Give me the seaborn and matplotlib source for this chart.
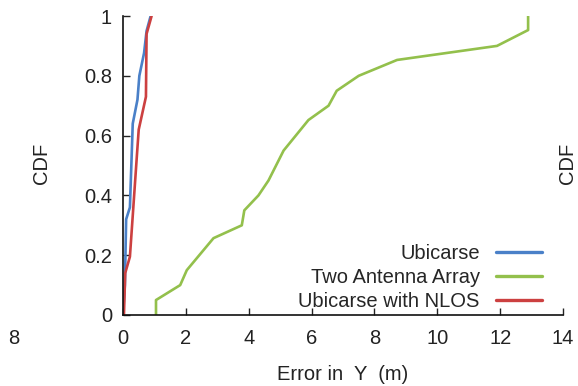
import matplotlib
matplotlib.use("Agg")
import matplotlib.pyplot as plt
import seaborn as sns
import pandas as pd

# CDF samples: localization error in Y (m) for each method
ubicarse_err = [0.0, 0.06, 0.10, 0.22, 0.31, 0.46, 0.52, 0.67, 0.75, 0.88]
ubicarse_cdf = [0.0, 0.10, 0.32, 0.36, 0.64, 0.72, 0.80, 0.876, 0.95, 1.0]

two_antenna_err = [1.05, 1.05, 1.82, 2.03, 2.88, 3.78, 3.86, 4.31, 4.63, 5.11,
                   5.90, 6.54, 6.80, 7.50, 8.72, 11.90, 12.89, 12.89]
two_antenna_cdf = [0.0, 0.05, 0.10, 0.15, 0.257, 0.30, 0.35, 0.40, 0.45, 0.55,
                   0.652, 0.70, 0.75, 0.80, 0.853, 0.90, 0.953, 1.0]

nlos_err = [0.03, 0.07, 0.22, 0.44, 0.50, 0.73, 0.75, 0.91]
nlos_cdf = [0.0, 0.14, 0.195, 0.53, 0.62, 0.73, 0.94, 1.0]

series_names = ["Ubicarse", "Two Antenna Array", "Ubicarse with NLOS"]
colors = ["#4a80c8", "#93c04c", "#cc4040"]

x_ticks = [0, 2, 4, 6, 8, 10, 12, 14]
y_ticks = [0, 0.2, 0.4, 0.6, 0.8, 1]
y_tick_labels = ["0", "0.2", "0.4", "0.6", "0.8", "1"]

frames = []
for name, xs, ys in zip(series_names,
                        [ubicarse_err, two_antenna_err, nlos_err],
                        [ubicarse_cdf, two_antenna_cdf, nlos_cdf]):
    frames.append(pd.DataFrame({"err": xs, "cdf": ys, "method": name,
                                "order": range(len(xs))}))
df = pd.concat(frames, ignore_index=True)

sns.set_style("ticks")
plt.rcParams["font.family"] = ["Liberation Sans", "DejaVu Sans"]

FS = 14.5
TXT = "#222222"

fig = plt.figure(figsize=(5.78, 3.86), dpi=100)
ax = fig.add_axes([123 / 578, 1 - 315 / 386, 440 / 578, 299 / 386])

sns.lineplot(data=df, x="err", y="cdf", hue="method", hue_order=series_names,
             palette=colors, sort=False, estimator=None, units="method",
             linewidth=1.9, ax=ax, legend=False)

handles = [plt.Line2D([], [], color=c, linewidth=2.4) for c in colors]
ax.legend(handles, series_names, loc="lower right", bbox_to_anchor=(0.98, -0.028),
          frameon=False, markerfirst=False, fontsize=FS, handlelength=2.3,
          handletextpad=0.8, labelspacing=0.26, borderaxespad=0.2)

ax.set_xlim(0, 14)
ax.set_ylim(0, 1)
ax.set_xticks(x_ticks)
ax.set_xticklabels([str(t) for t in x_ticks])
ax.set_yticks(y_ticks)
ax.set_yticklabels(y_tick_labels)
ax.tick_params(direction="in", length=5, width=1, labelsize=FS, colors=TXT,
               pad=8)
ax.tick_params(axis="x", pad=10)
for s in ["top", "right"]:
    ax.spines[s].set_visible(False)
for s in ["left", "bottom"]:
    ax.spines[s].set_linewidth(1.2)
    ax.spines[s].set_color("#111111")

ax.set_xlabel("Error in  Y  (m)", fontsize=FS, color=TXT, labelpad=12)
ax.set_ylabel("")
fig.text(41 / 578, 1 - 163 / 386, "CDF", rotation=90, fontsize=FS,
         color=TXT, ha="center", va="center")

# neighbouring panels' edges
fig.text(14 / 578, 1 - 339 / 386, "8", fontsize=FS, color=TXT,
         ha="center", va="center")
fig.text(577 / 578, 1 - 163 / 386, "CDF", rotation=90, fontsize=FS,
         color=TXT, ha="right", va="center")

fig.savefig("out.png", dpi=100)
